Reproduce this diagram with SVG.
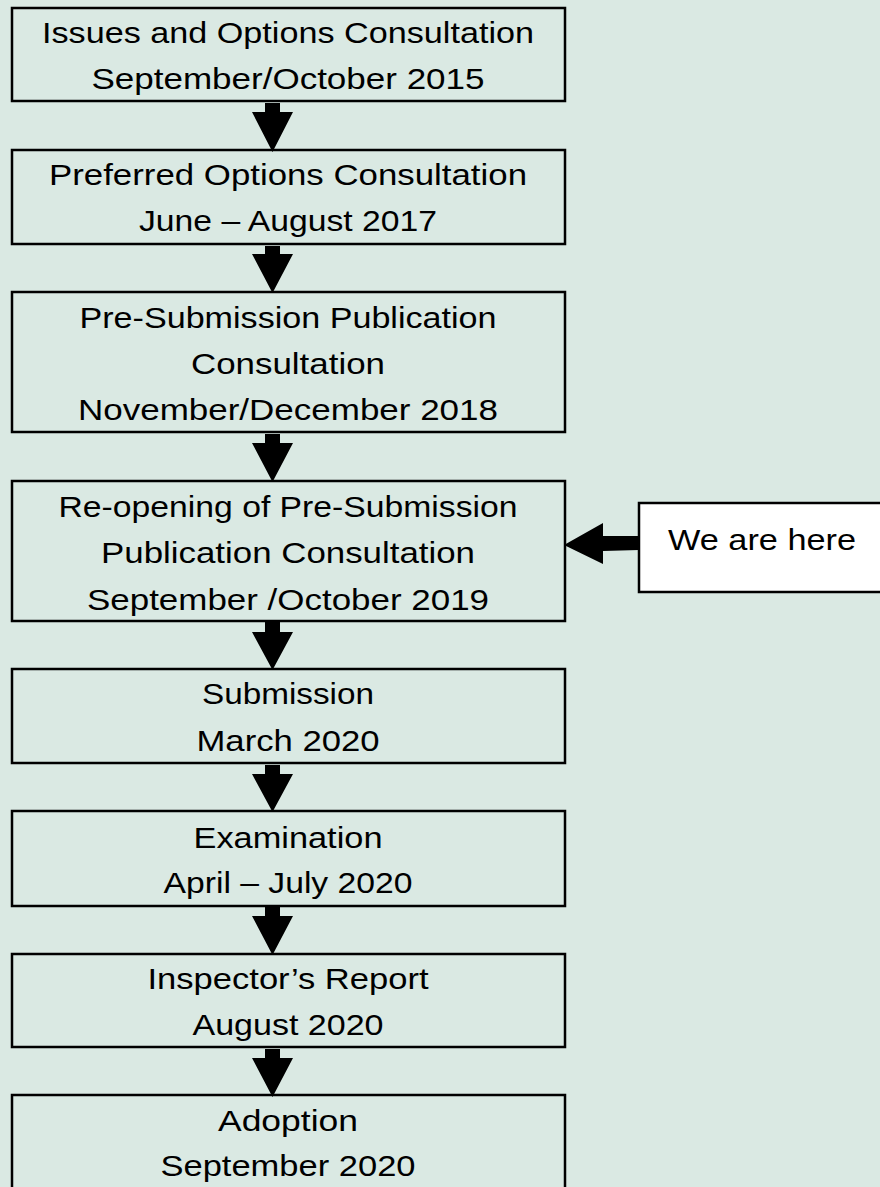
<svg xmlns="http://www.w3.org/2000/svg" width="880" height="1187" viewBox="0 0 880 1187">
<style>
.box{fill:#dae9e3;stroke:#000;stroke-width:2.5}
.note{fill:#fff;stroke:#000;stroke-width:2.5}
.t{font-family:"Liberation Sans",Arial,sans-serif;font-size:30px;fill:#000;text-anchor:middle}
.arr{fill:#000}
</style>
<rect width="880" height="1187" fill="#dae9e3"/>
<g id="node1"><rect class="box" x="12" y="8" width="553" height="93"/>
<text class="t" x="288" y="43" textLength="492" lengthAdjust="spacingAndGlyphs">Issues and Options Consultation</text>
<text class="t" x="288" y="89" textLength="393" lengthAdjust="spacingAndGlyphs">September/October 2015</text></g>
<g id="node2"><rect class="box" x="12" y="150" width="553" height="94"/>
<text class="t" x="288" y="185" textLength="478" lengthAdjust="spacingAndGlyphs">Preferred Options Consultation</text>
<text class="t" x="288" y="231" textLength="298" lengthAdjust="spacingAndGlyphs">June – August 2017</text></g>
<g id="node3"><rect class="box" x="12" y="292" width="553" height="140"/>
<text class="t" x="288" y="328" textLength="417" lengthAdjust="spacingAndGlyphs">Pre-Submission Publication</text>
<text class="t" x="288" y="374" textLength="194" lengthAdjust="spacingAndGlyphs">Consultation</text>
<text class="t" x="288" y="420" textLength="420" lengthAdjust="spacingAndGlyphs">November/December 2018</text></g>
<g id="node4"><rect class="box" x="12" y="481" width="553" height="140"/>
<text class="t" x="288" y="517" textLength="459" lengthAdjust="spacingAndGlyphs">Re-opening of Pre-Submission</text>
<text class="t" x="288" y="563" textLength="374" lengthAdjust="spacingAndGlyphs">Publication Consultation</text>
<text class="t" x="288" y="610" textLength="402" lengthAdjust="spacingAndGlyphs">September /October 2019</text></g>
<g id="note"><rect class="note" x="639" y="503" width="260" height="89"/>
<text class="t" x="762" y="550" textLength="188" lengthAdjust="spacingAndGlyphs">We are here</text></g>
<g id="node5"><rect class="box" x="12" y="669" width="553" height="94"/>
<text class="t" x="288" y="704" textLength="172" lengthAdjust="spacingAndGlyphs">Submission</text>
<text class="t" x="288" y="751" textLength="183" lengthAdjust="spacingAndGlyphs">March 2020</text></g>
<g id="node6"><rect class="box" x="12" y="811" width="553" height="95"/>
<text class="t" x="288" y="848" textLength="189" lengthAdjust="spacingAndGlyphs">Examination</text>
<text class="t" x="288" y="893" textLength="249" lengthAdjust="spacingAndGlyphs">April – July 2020</text></g>
<g id="node7"><rect class="box" x="12" y="954" width="553" height="93"/>
<text class="t" x="288" y="989" textLength="281" lengthAdjust="spacingAndGlyphs">Inspector’s Report</text>
<text class="t" x="288" y="1035" textLength="191" lengthAdjust="spacingAndGlyphs">August 2020</text></g>
<g id="node8"><rect class="box" x="12" y="1095" width="553" height="110"/>
<text class="t" x="288" y="1131" textLength="140" lengthAdjust="spacingAndGlyphs">Adoption</text>
<text class="t" x="288" y="1176" textLength="255" lengthAdjust="spacingAndGlyphs">September 2020</text></g>
<g id="connectors" class="arr">
<path d="M265,103 H280 V112 H293 L272.5,152 L252,112 H265 Z"/>
<path d="M265,246 H280 V254 H293 L272.5,293 L252,254 H265 Z"/>
<path d="M265,434 H280 V443 H293 L272.5,482 L252,443 H265 Z"/>
<path d="M265,622 H280 V632 H293 L272.5,670 L252,632 H265 Z"/>
<path d="M265,765 H280 V774 H293 L272.5,812 L252,774 H265 Z"/>
<path d="M265,907 H280 V916 H293 L272.5,955 L252,916 H265 Z"/>
<path d="M265,1049 H280 V1058 H293 L272.5,1097 L252,1058 H265 Z"/>
<path d="M639,536 V550 L603,551 V564 L564,545 L603,523 V536 Z"/>
</g>
</svg>
